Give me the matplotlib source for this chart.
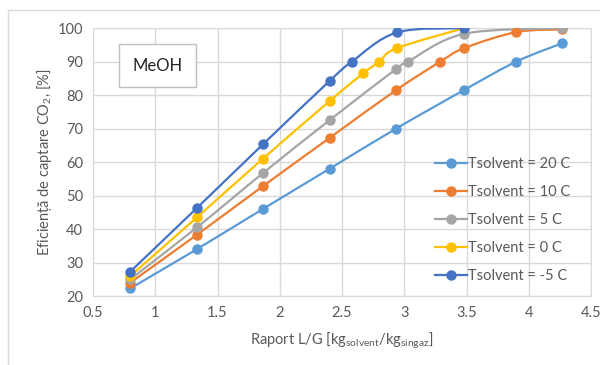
import matplotlib
matplotlib.use('Agg')
import matplotlib.pyplot as plt
import numpy as np
from matplotlib.path import Path
from matplotlib.patches import PathPatch, Rectangle
from matplotlib.lines import Line2D

plt.rcParams['font.family'] = ['Lato', 'DejaVu Sans']
plt.rcParams['mathtext.fontset'] = 'custom'
plt.rcParams['mathtext.rm'] = 'Lato'
plt.rcParams['mathtext.it'] = 'Lato:italic'

# === date ===
x_20 = [0.80, 1.335, 1.865, 2.40, 2.935, 3.48, 3.90, 4.27]
y_20 = [22.3, 34.0, 46.0, 58.0, 70.0, 81.5, 90.0, 95.5]

x_10 = [0.80, 1.335, 1.865, 2.40, 2.935, 3.29, 3.48, 3.90, 4.27]
y_10 = [24.0, 38.3, 52.8, 67.2, 81.5, 90.0, 94.0, 98.8, 99.6]

x_5 = [0.80, 1.335, 1.865, 2.40, 2.935, 3.03, 3.48, 4.27]
y_5 = [25.0, 40.5, 56.7, 72.5, 87.8, 90.0, 98.3, 100.0]

x_0 = [0.80, 1.335, 1.865, 2.40, 2.67, 2.80, 2.94, 3.48]
y_0 = [26.0, 43.5, 61.0, 78.2, 86.5, 90.0, 94.0, 100.0]

x_m5 = [0.80, 1.335, 1.865, 2.40, 2.58, 2.94, 3.48]
y_m5 = [27.3, 46.3, 65.3, 84.2, 90.0, 98.7, 100.0]

labels = ['Tsolvent = 20 C', 'Tsolvent = 10 C', 'Tsolvent = 5 C',
          'Tsolvent = 0 C', 'Tsolvent = -5 C']
colors = ['#5B9BD5', '#ED7D31', '#A5A5A5', '#FFC000', '#4472C4']
series = [(x_20, y_20), (x_10, y_10), (x_5, y_5), (x_0, y_0), (x_m5, y_m5)]


def smooth_path(xs, ys):
    # curba netezita ca in Excel (bezier prin puncte)
    p = np.column_stack([xs, ys])
    n = len(p)
    verts = [p[0]]
    codes = [Path.MOVETO]
    for i in range(n - 1):
        p0 = p[i - 1] if i > 0 else p[i]
        p3 = p[i + 2] if i + 2 < n else p[i + 1]
        c1 = p[i] + (p[i + 1] - p0) / 6
        c2 = p[i + 1] - (p3 - p[i]) / 6
        verts += [c1, c2, p[i + 1]]
        codes += [Path.CURVE4] * 3
    return Path(verts, codes)


fig = plt.figure(figsize=(6, 3.65), dpi=100)
ax = fig.add_axes([0.155, 0.189, 0.830, 0.734])

for (xs, ys), c in zip(series, colors):
    ax.add_patch(PathPatch(smooth_path(xs, ys), facecolor='none',
                           edgecolor=c, lw=1.6, zorder=3))
    ax.plot(xs, ys, 'o', color=c, ms=6.5, zorder=4)

ax.set_xlim(0.5, 4.5)
ax.set_ylim(20, 100)
ax.set_xticks(np.arange(0.5, 4.51, 0.5))
ax.set_yticks(np.arange(20, 101, 10))
ax.set_xticklabels(['0.5', '1', '1.5', '2', '2.5', '3', '3.5', '4', '4.5'])
ax.grid(True, color='#D9D9D9', lw=1)
ax.set_axisbelow(True)
for s in ax.spines.values():
    s.set_color('#D9D9D9')
ax.tick_params(length=0, labelsize=10.5, colors='#595959', pad=7)

ax.set_ylabel('Eficiență de captare CO$_2$, [%]', fontsize=10.5,
              color='#595959', labelpad=3)
ax.set_xlabel(r'Raport L/G [kg$_{\mathrm{solvent}}$/kg$_{\mathrm{singaz}}$]',
              fontsize=10.5, color='#595959', labelpad=8)

handles = [Line2D([], [], color=c, lw=1.6, marker='o', ms=6.5) for c in colors]
leg = ax.legend(handles, labels, loc='center left', bbox_to_anchor=(0.66, 0.284),
                frameon=False, fontsize=10.5, labelcolor='#595959',
                handlelength=2.2, handletextpad=0.1, labelspacing=0.95)

ax.text(0.13, 0.86, 'MeOH', transform=ax.transAxes, fontsize=12,
        color='#262626', ha='center', va='center',
        bbox=dict(boxstyle='square,pad=0.8', fc='white', ec='#BFBFBF', lw=1))

fig.patches.append(Rectangle((8 / 600, -0.1), 1.2, 1 - 10 / 365 + 0.1,
                             transform=fig.transFigure, fill=False,
                             ec='#D9D9D9', lw=1))

plt.savefig('out.png', dpi=100)
